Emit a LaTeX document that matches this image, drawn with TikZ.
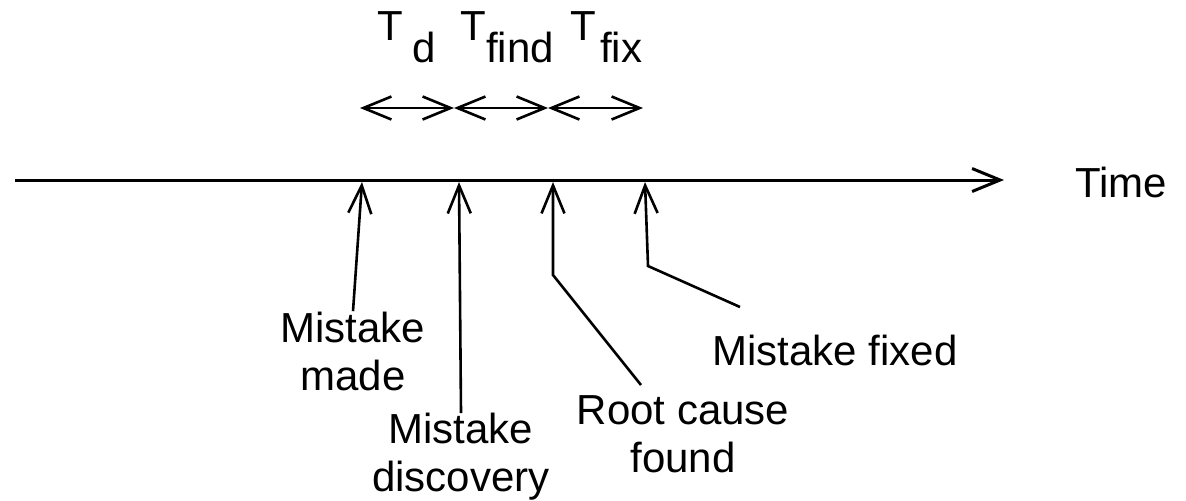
\documentclass[tikz,border=0pt]{standalone}
\usepackage{fontspec}
\setmainfont{Liberation Sans}
\usetikzlibrary{arrows.meta}

\begin{document}
\begin{tikzpicture}[x=0.5pt, y=-0.5pt,
    every node/.style={inner sep=0pt, font=\fontsize{21}{24}\selectfont},
    label/.style={align=center},
    tip/.style={-{Straight Barb[length=14pt,width=11.5pt]}, line width=1.3pt},
    span/.style={{Straight Barb[length=14pt,width=11.5pt]}-{Straight Barb[length=14pt,width=11.5pt]}, line width=1.3pt}]
    \useasboundingbox (0,0) rectangle (1186,500);

    % time axis
    \coordinate (start) at (15,180);
    \coordinate (end) at (1004,180);
    \draw[tip, line width=1.5pt] (start) -- (end);
    \node (time) at (1121,182) {Time};

    \coordinate (made) at (362,182);
    \coordinate (disc) at (459,182);
    \coordinate (root) at (553,182);
    \coordinate (fix) at (645,182);

    % durations
    \coordinate (s0) at (360,108);
    \coordinate (s1) at (454,108);
    \coordinate (s2) at (548,108);
    \coordinate (s3) at (643,108);
    \draw[span] (s0) -- (s1);
    \draw[span] (s1) -- (s2);
    \draw[span] (s2) -- (s3);

    \node (td) at (377,40) [anchor=base west] {T\kern4.5pt\raisebox{-11pt}{d}};
    \node (tfind) at (460,40) [anchor=base west] {T\kern0pt\raisebox{-11pt}{find}};
    \node (tfix) at (570,40) [anchor=base west] {T\kern2pt\raisebox{-11pt}{fix}};

    % labels
    \node[label] (lmade) at (353,351) {Mistake\\made};
    \node[label] (ldisc) at (461,457) {Mistake\\discovery};
    \node[label] (lroot) at (683,434) {Root cause\\found};
    \node (lfix) at (835,350) {Mistake fixed};

    \coordinate (rootbend) at (553,275);
    \coordinate (rootend) at (641,385);
    \coordinate (fixbend) at (648,266);
    \coordinate (fixend) at (740,307);

    \draw[tip] (lmade.north) -- (made);
    \draw[tip] (ldisc.north) -- (disc);
    \draw[tip] (rootend) -- (rootbend) -- (root);
    \draw[tip] (fixend) -- (fixbend) -- (fix);
\end{tikzpicture}
\end{document}
